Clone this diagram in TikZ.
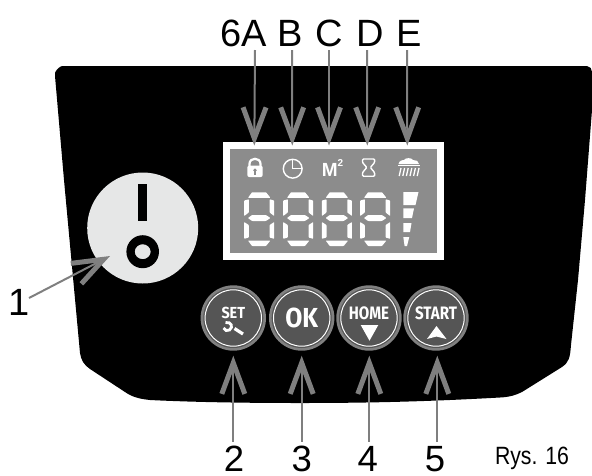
\documentclass[tikz,border=0pt]{standalone}
\usepackage{fontspec}
\setmainfont{Liberation Sans}
\newfontfamily\btnfont[BoldFont={Fira Sans Bold}]{Fira Sans}
\usetikzlibrary{arrows.meta}
\definecolor{lcdgray}{HTML}{8C8C8C}
\definecolor{arrowgray}{HTML}{7F7F7F}
\definecolor{btnring}{HTML}{808080}
\definecolor{btnface}{HTML}{555555}
\definecolor{switchface}{HTML}{E6E7E7}
\tikzset{
  big/.style={font=\fontsize{38}{38}\selectfont,anchor=base,inner sep=0pt,text=black},
  bignum/.style={font=\fontsize{36.5}{36.5}\selectfont,anchor=base,inner sep=0pt,text=black},
  callout/.style={draw=arrowgray,line width=2pt,-{Straight Barb[length=31pt,width=23pt,line width=5pt]}},
  btnlabel/.style={text=white,inner sep=0pt,font=\btnfont\bfseries\fontsize{#1}{#1}\selectfont},
  seg/.style={fill=white,draw=none,rounded corners=0.6pt},
  iconline/.style={draw=white,line width=1.4pt},
}
\newcommand{\roundbutton}[2]{%
  \fill[btnring] (#1,318) circle[radius=32.7];
  \fill[btnface] (#1,318) circle[radius=30];
  \draw[white,line width=1pt,fill=btnface] (#1,318) circle[radius=28.2];
  \coordinate (#2) at (#1,318);
}
\begin{document}
\begin{tikzpicture}[x=1pt,y=-1pt]
\useasboundingbox (0,0) rectangle (592,475);
% panel
\fill[black] (55,76) -- (55,73) .. controls (56,70) and (59,67) .. (62,66)
  -- (587,66) .. controls (590,66) and (592,69) .. (592,72)
  -- (592,110) -- (585,200) -- (578,280) -- (571,345)
  .. controls (570,358) and (569,362) .. (562,367)
  -- (522,392) .. controls (516,395) and (510,397) .. (500,397.5)
  .. controls (420,402) and (360,403) .. (300,403)
  .. controls (240,403) and (190,402) .. (150,400)
  .. controls (140,399) and (132,397) .. (125,392)
  -- (90,369) .. controls (84,365) and (81,360) .. (80,353)
  -- (64,180) -- cycle;
% switch
\node[circle,fill=switchface,minimum size=111pt,inner sep=0pt] (switch) at (142.7,228) {};
\fill[black] (137.7,184) rectangle (147,220.7);
\fill[black,even odd rule] (142.7,251.7) ellipse[x radius=16.3,y radius=16.5]
   (142.7,251.7) ellipse[x radius=8,y radius=7.5];
% lcd
\node[draw=white,line width=7pt,fill=lcdgray,minimum width=214pt,minimum height=111pt,inner sep=0pt] (lcd) at (333.7,201) {};
% lock
\fill[white,rounded corners=2pt] (247.3,165.7) rectangle (262.7,177);
\draw[white,line width=2.2pt] (249.5,167) -- (249.5,164) .. controls (249.5,157) and (260.5,157) .. (260.5,164) -- (260.5,167);
\fill[lcdgray] (255,170.3) circle[radius=1.9];
\fill[lcdgray] (254.2,170.5) rectangle (255.8,174.5);
% clock
\draw[iconline] (292.7,168.7) circle[radius=9.4];
\draw[iconline] (292.7,159.3) -- (292.7,168.7) -- (302.1,168.7);
% M2
\node[anchor=base west,inner sep=0pt,text=white,font=\bfseries\fontsize{19}{19}\selectfont] (m) at (321.6,176.7) {M};
\node[anchor=base west,inner sep=0pt,text=white,font=\bfseries\fontsize{10}{10}\selectfont] (sq) at (337.5,166.3) {2};
% hourglass
\draw[iconline,rounded corners=1pt] (362.5,159) -- (374.6,159) -- (374.6,162.5) -- (370.3,167.5) -- (374.6,172.5) -- (374.6,176.2) -- (362.5,176.2) -- (362.5,172.5) -- (366.8,167.5) -- (362.5,162.5) -- cycle;
% shower
\fill[white] (398.5,164) .. controls (399,160.5) and (403,160) .. (404,160) .. controls (405,157.5) and (412,157.5) .. (413,160) .. controls (416,160) and (419,161) .. (419,164) -- cycle;
\fill[white] (398,165) rectangle (419.5,166.2);
\foreach \r in {0,1,2,3,4,5}
  \draw[white,line width=1.3pt] (401+3.6*\r,168) -- (399.2+3.6*\r,176);
% seven-segment digits
\foreach \d in {244,283,321.7,360}{
  \begin{scope}[shift={(\d,0)}]
    \fill[seg] (4,197.8) -- (8,192.3) -- (22,192.3) -- (26.4,197.8) -- cycle;
    \fill[seg] (4,218) -- (8,215) -- (22,215) -- (26.4,218) -- (22,221) -- (8,221) -- cycle;
    \fill[seg] (4,240.5) -- (26.4,240.5) -- (22,246) -- (8,246) -- cycle;
    \fill[seg] (0.2,200.5) -- (4.8,199.3) -- (4.8,212.5) -- (0.2,216) -- cycle;
    \fill[seg] (30.2,200.5) -- (25.6,199.3) -- (25.6,212.5) -- (30.2,216) -- cycle;
    \fill[seg] (0.2,222) -- (4.8,225) -- (4.8,237.5) -- (0.2,238.8) -- cycle;
    \fill[seg] (30.2,222) -- (25.6,225) -- (25.6,237.5) -- (30.2,238.8) -- cycle;
  \end{scope}
}
% level bars
\fill[white] (403.3,192) -- (418.5,192) -- (415.5,205) -- (403.3,205) -- cycle;
\fill[white] (403.3,208.3) -- (414,208.3) -- (412,218) -- (403.3,218) -- cycle;
\fill[white] (403.3,223) -- (411.5,223) -- (410,232) -- (403.3,232) -- cycle;
\fill[white] (403.3,237) -- (409.3,237) -- (407,246) -- (404.6,246) -- cycle;
% buttons
\roundbutton{233.3}{setbtn}
\roundbutton{301.7}{okbtn}
\roundbutton{369}{homebtn}
\roundbutton{436}{startbtn}
\node[btnlabel=16,xscale=.9] (settext) at (233.3,312.5) {SET};
\draw[white,line width=2.8pt] (225.5,322.5) .. controls (231.5,321.5) and (233.5,327) .. (229.5,330) .. controls (227,331.5) and (225,330.5) .. (223.5,328);
\draw[white,line width=3.2pt] (234.5,328.5) -- (243,334);
\node[btnlabel=27.5,xscale=.9] (oktext) at (301.7,317.5) {OK};
\node[btnlabel=18,xscale=.84] (hometext) at (369,313) {HOME};
\fill[white] (360.7,325) -- (378.3,325) -- (369.5,340.7) -- cycle;
\node[btnlabel=18,xscale=.84] (starttext) at (436,313) {START};
\fill[white] (436.5,326) -- (446.5,339) -- (436.5,336.5) -- (427,339) -- cycle;
% labels
\node[big] (l6a) at (244,46) {6A};
\node[big] (lb) at (290.5,46) {B};
\node[big] (lc) at (329,46) {C};
\node[big] (ld) at (370,46) {D};
\node[big] (le) at (409,46) {E};
\node[big] (l1) at (19,315) {1};
\node[bignum] (l2) at (234,471.5) {2};
\node[bignum] (l3) at (301.7,471.5) {3};
\node[bignum] (l4) at (367.7,471.5) {4};
\node[bignum] (l5) at (435,471.5) {5};
\node[anchor=base,inner sep=0pt,xscale=.85,font=\fontsize{25}{25}\selectfont] (rys) at (532,464.5) {Rys. 16};
% callout ends
\coordinate (sa) at (255,50);   \coordinate (ta) at (254.3,145.5);
\coordinate (sb) at (292,50);   \coordinate (tb) at (292.3,145.5);
\coordinate (sc) at (329,50);   \coordinate (tc) at (329,145.5);
\coordinate (sd) at (367,50);   \coordinate (td) at (367.3,145.5);
\coordinate (se) at (407,50);   \coordinate (te) at (407.3,145.5);
\coordinate (s1) at (29,298);   \coordinate (t1) at (110,256);
\coordinate (s2) at (233.3,441.7); \coordinate (t2) at (233.3,355.7);
\coordinate (s3) at (301.7,441.7); \coordinate (t3) at (301.7,355.7);
\coordinate (s4) at (369.3,441.7); \coordinate (t4) at (369.3,355.7);
\coordinate (s5) at (437.3,441.7); \coordinate (t5) at (437.3,355.7);
\foreach \a/\b in {sa/ta,sb/tb,sc/tc,sd/td,se/te,s1/t1,s2/t2,s3/t3,s4/t4,s5/t5}
  \draw[callout] (\a) -- (\b);
\end{tikzpicture}
\end{document}
